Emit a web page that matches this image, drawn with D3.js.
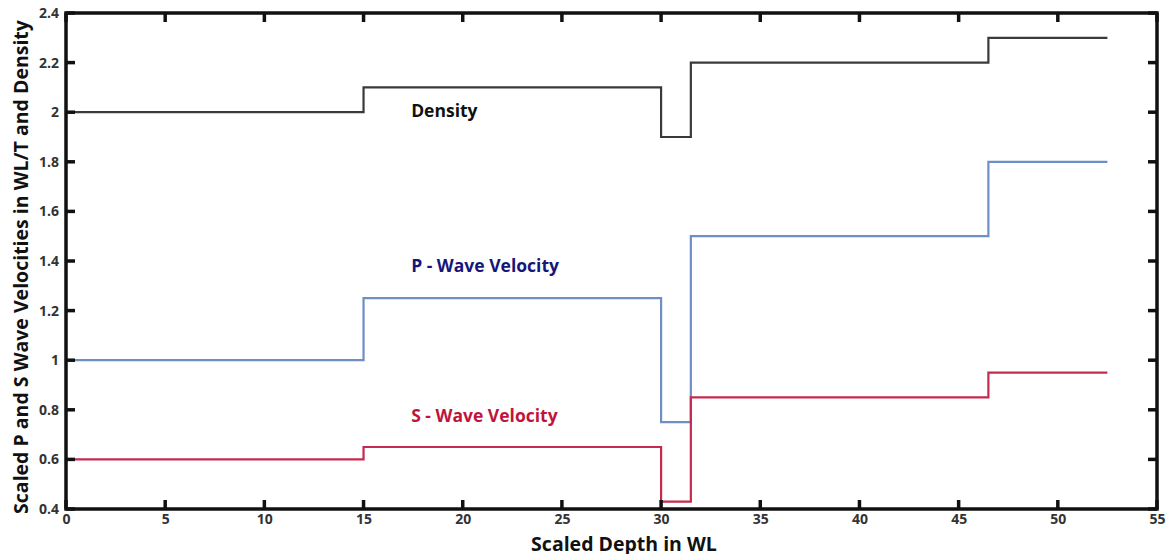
<!DOCTYPE html>
<html>
<head>
<meta charset="utf-8">
<script src="https://cdn.jsdelivr.net/npm/d3@7"></script>
<style>
  body { margin: 0; background: #fff; }
  svg text { font-family: "Open Sans", sans-serif; font-weight: bold; }
</style>
</head>
<body>
<script>
  var width = 1166;
  var height = 554;

  // layer boundaries (depth in WL) and values per layer
  var depthEdges = [0, 15, 30, 31.5, 46.5, 52.5];
  var density = [2.0, 2.1, 1.9, 2.2, 2.3];
  var pWave = [1.0, 1.25, 0.75, 1.5, 1.8];
  var sWave = [0.6, 0.65, 0.43, 0.85, 0.95];

  var xTicks = [0, 5, 10, 15, 20, 25, 30, 35, 40, 45, 50, 55];
  var yTicks = [0.4, 0.6, 0.8, 1, 1.2, 1.4, 1.6, 1.8, 2, 2.2, 2.4];

  var margin = { left: 66, right: 9, top: 13, bottom: 45 };

  var svg = d3.select("body")
    .append("svg")
    .attr("width", width)
    .attr("height", height);

  var x = d3.scaleLinear()
    .domain([0, 55])
    .range([margin.left, width - margin.right]);

  var y = d3.scaleLinear()
    .domain([0.4, 2.4])
    .range([height - margin.bottom, margin.top]);

  // turn layer values into step points
  function steps(vals) {
    var pts = [];
    vals.forEach(function(v, i) {
      pts.push([depthEdges[i], v]);
      pts.push([depthEdges[i + 1], v]);
    });
    return pts;
  }

  var line = d3.line()
    .x(function(d) { return x(d[0]); })
    .y(function(d) { return y(d[1]); });

  var series = [
    { vals: density, color: "#3a3a3a" },
    { vals: pWave, color: "#6f8ec4" },
    { vals: sWave, color: "#c52a4f" }
  ];

  svg.selectAll(".series")
    .data(series)
    .enter()
    .append("path")
    .attr("class", "series")
    .attr("fill", "none")
    .attr("stroke", function(d) { return d.color; })
    .attr("stroke-width", 2.2)
    .attr("d", function(d) { return line(steps(d.vals)); });

  // tick labels through d3 axes
  var axBottom = svg.append("g")
    .attr("transform", "translate(0," + y.range()[0] + ")")
    .call(d3.axisBottom(x).tickValues(xTicks).tickSize(0).tickPadding(5));
  var axLeft = svg.append("g")
    .attr("transform", "translate(" + x.range()[0] + ",0)")
    .call(d3.axisLeft(y).tickValues(yTicks).tickSize(0).tickPadding(7)
      .tickFormat(function(d) { return d3.format("")(+d.toFixed(1)); }));
  [axBottom, axLeft].forEach(function(a) {
    a.select(".domain").remove();
    a.selectAll(".tick text")
      .attr("fill", "#333")
      .style("font-size", "14px");
  });

  // frame and inward ticks, drawn on top
  var tickLen = 9;
  var frame = svg.append("g")
    .attr("stroke", "#111")
    .attr("stroke-width", 3.5)
    .attr("fill", "none");

  frame.append("rect")
    .attr("x", x.range()[0])
    .attr("y", y.range()[1])
    .attr("width", x.range()[1] - x.range()[0])
    .attr("height", y.range()[0] - y.range()[1]);

  frame.selectAll(".xtb").data(xTicks).enter().append("line")
    .attr("x1", x).attr("x2", x)
    .attr("y1", y.range()[0]).attr("y2", y.range()[0] - tickLen);
  frame.selectAll(".xtt").data(xTicks).enter().append("line")
    .attr("x1", x).attr("x2", x)
    .attr("y1", y.range()[1]).attr("y2", y.range()[1] + tickLen);
  frame.selectAll(".ytl").data(yTicks).enter().append("line")
    .attr("y1", y).attr("y2", y)
    .attr("x1", x.range()[0]).attr("x2", x.range()[0] + tickLen);
  frame.selectAll(".ytr").data(yTicks).enter().append("line")
    .attr("y1", y).attr("y2", y)
    .attr("x1", x.range()[1]).attr("x2", x.range()[1] - tickLen);

  // in-plot labels
  var labels = [
    { text: "Density", x: 17.4, y: 1.98, color: "#111" },
    { text: "P - Wave Velocity", x: 17.4, y: 1.355, color: "#16167a" },
    { text: "S - Wave Velocity", x: 17.4, y: 0.75, color: "#c0143c" }
  ];
  svg.selectAll(".lbl")
    .data(labels)
    .enter()
    .append("text")
    .attr("class", "lbl")
    .attr("x", function(d) { return x(d.x); })
    .attr("y", function(d) { return y(d.y); })
    .attr("fill", function(d) { return d.color; })
    .style("font-size", "17.5px")
    .text(function(d) { return d.text; });

  // axis titles
  svg.append("text")
    .attr("x", 624)
    .attr("y", 551)
    .attr("text-anchor", "middle")
    .attr("fill", "#111")
    .style("font-size", "19.5px")
    .text("Scaled Depth in WL");

  svg.append("text")
    .attr("transform", "translate(28," + 267 + ") rotate(-90)")
    .attr("text-anchor", "middle")
    .attr("fill", "#111")
    .style("font-size", "19.5px")
    .text("Scaled P and S Wave Velocities in WL/T and Density");
</script>
</body>
</html>
